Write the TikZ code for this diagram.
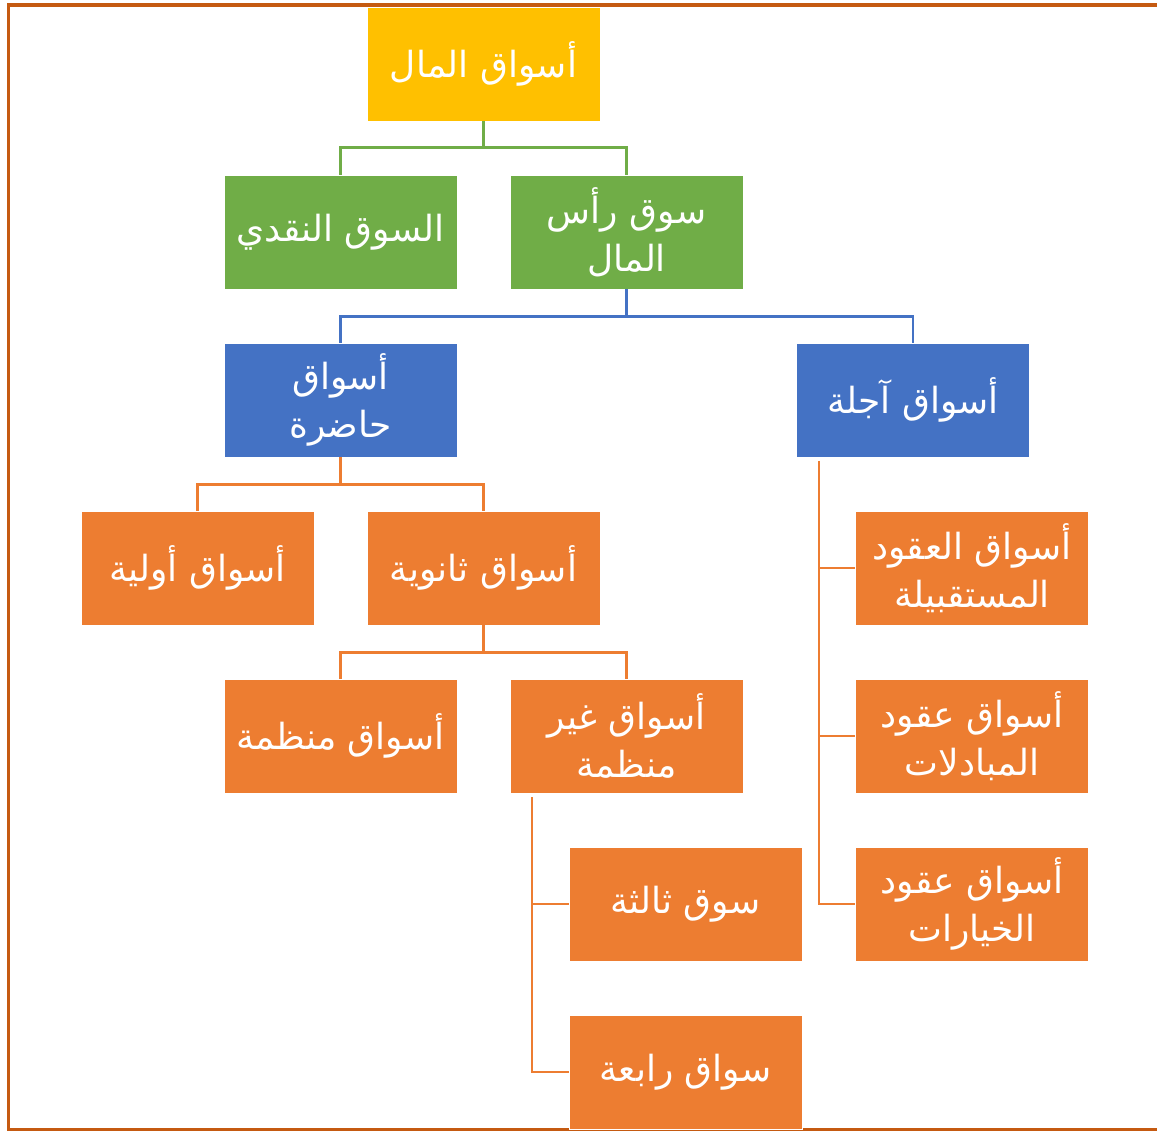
\documentclass[tikz,border=0pt]{standalone}
\usepackage{fontspec}
\TeXXeTstate=1
\newfontfamily\arabicfont[Script=Arabic]{DejaVu Sans}
\newcommand{\ar}[1]{{\arabicfont\beginR #1\endR}}
\definecolor{cgold}{HTML}{FFC000}
\definecolor{cgreen}{HTML}{70AD47}
\definecolor{cblue}{HTML}{4472C4}
\definecolor{corange}{HTML}{ED7D31}
\definecolor{cframe}{HTML}{C55A11}
\tikzset{
  box/.style={rectangle, draw=white, line width=0.8pt, minimum width=233pt, minimum height=114pt,
    inner sep=0pt, text=white, align=center, font=\fontsize{36}{48}\selectfont},
  conn/.style={line width=2.3pt},
}
\begin{document}
\begin{tikzpicture}[x=1pt,y=-1pt]
\useasboundingbox (0,0) rectangle (1157,1131);
\fill[white] (0,0) rectangle (1157,1131);
\draw[cframe, line width=3.5pt] (1160,5) -- (8.7,5) -- (8.7,1129.5) -- (1160,1129.5);

\node[box, fill=cgold] (root) at (483.5,64) {\ar{أسواق المال}};
\node[box, fill=cgreen] (cash) at (340.5,232) {\ar{السوق النقدي}};
\node[box, fill=cgreen] (cap) at (626.5,232) {\ar{سوق رأس}\\\ar{المال}};
\node[box, fill=cblue] (spot) at (340.5,400) {\ar{أسواق}\\\ar{حاضرة}};
\node[box, fill=cblue] (fwd) at (913,400) {\ar{أسواق آجلة}};
\node[box, fill=corange] (prim) at (197.5,568) {\ar{أسواق أولية}};
\node[box, fill=corange] (sec) at (483.5,568) {\ar{أسواق ثانوية}};
\node[box, fill=corange] (fut) at (972,568) {\ar{أسواق العقود}\\\ar{المستقبيلة}};
\node[box, fill=corange] (swap) at (972,736) {\ar{أسواق عقود}\\\ar{المبادلات}};
\node[box, fill=corange] (opt) at (972,904) {\ar{أسواق عقود}\\\ar{الخيارات}};
\node[box, fill=corange] (org) at (340.5,736) {\ar{أسواق منظمة}};
\node[box, fill=corange] (unorg) at (626.5,736) {\ar{أسواق غير}\\\ar{منظمة}};
\node[box, fill=corange] (third) at (685.5,904) {\ar{سوق ثالثة}};
\node[box, fill=corange] (fourth) at (685.5,1072) {\ar{سواق رابعة}};

\draw[conn, cgreen] (root.south) -- ++(0,26) -| (cash.north);
\draw[conn, cgreen] (root.south) -- ++(0,26) -| (cap.north);
\draw[conn, cblue] (cap.south) -- ++(0,27) -| (spot.north);
\draw[conn, cblue] (cap.south) -- ++(0,27) -| (fwd.north);
\draw[conn, corange] (spot.south) -- ++(0,27) -| (prim.north);
\draw[conn, corange] (spot.south) -- ++(0,27) -| (sec.north);
\draw[conn, corange] (sec.south) -- ++(0,27) -| (org.north);
\draw[conn, corange] (sec.south) -- ++(0,27) -| (unorg.north);

\coordinate (fa) at (819,461);
\draw[conn, corange] (fa) |- (opt.west);
\draw[conn, corange] (fa |- fut.west) -- (fut.west);
\draw[conn, corange] (fa |- swap.west) -- (swap.west);

\coordinate (ua) at (532,797);
\draw[conn, corange] (ua) |- (fourth.west);
\draw[conn, corange] (ua |- third.west) -- (third.west);
\end{tikzpicture}
\end{document}
